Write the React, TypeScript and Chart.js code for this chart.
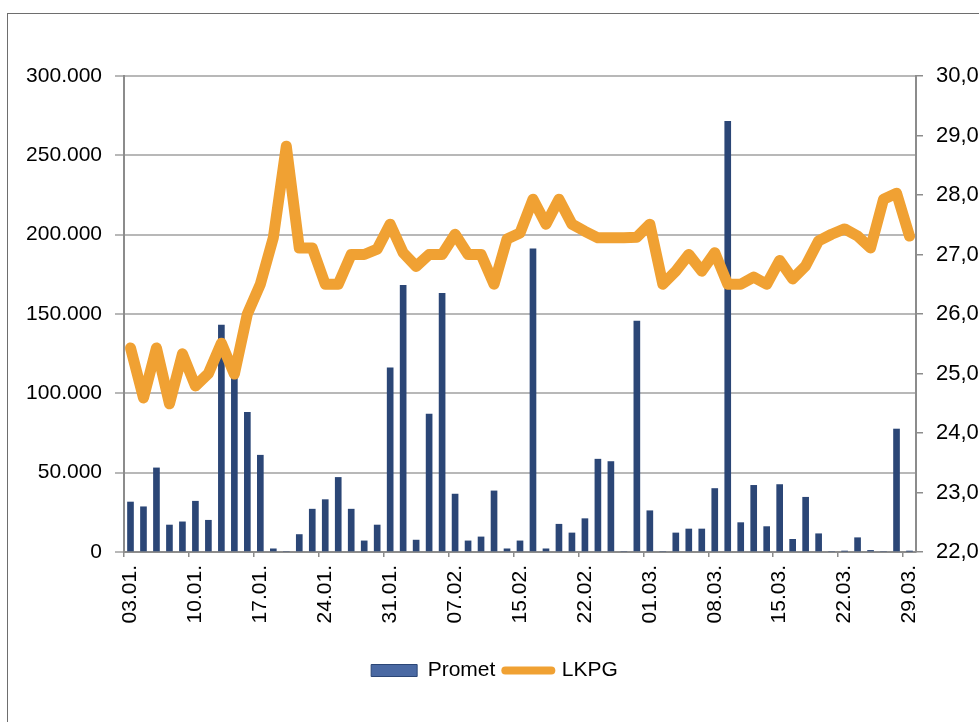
import { useEffect, useRef } from 'react';
import { Chart, registerables } from 'chart.js';

Chart.register(...registerables);

const dates = [
  '03.01.', '04.01.', '05.01.', '06.01.', '07.01.', '10.01.', '11.01.', '12.01.', '13.01.', '14.01.',
  '17.01.', '18.01.', '19.01.', '20.01.', '21.01.', '24.01.', '25.01.', '26.01.', '27.01.', '28.01.',
  '31.01.', '01.02.', '02.02.', '03.02.', '04.02.', '07.02.', '09.02.', '10.02.', '11.02.', '14.02.',
  '15.02.', '16.02.', '17.02.', '18.02.', '21.02.', '22.02.', '23.02.', '24.02.', '25.02.', '28.02.',
  '01.03.', '02.03.', '03.03.', '04.03.', '07.03.', '08.03.', '09.03.', '10.03.', '11.03.', '14.03.',
  '15.03.', '16.03.', '17.03.', '18.03.', '21.03.', '22.03.', '23.03.', '24.03.', '25.03.', '28.03.',
  '29.03.',
];

const promet = [
  31500, 28500, 53000, 17000, 19000, 32000, 20000, 143000, 112000, 88000,
  61000, 2000, 0, 11000, 27000, 33000, 47000, 27000, 7000, 17000,
  116000, 168000, 7500, 87000, 163000, 36500, 7000, 9500, 38500, 2000,
  7000, 191000, 2000, 17500, 12000, 21000, 58500, 57000, 0, 145500,
  26000, 0, 12000, 14500, 14500, 40000, 271500, 18500, 42000, 16000,
  42500, 8000, 34500, 11500, 0, 500, 9000, 1000, 0, 77500,
  500,
];

const lkpg = [
  25.43, 24.59, 25.43, 24.49, 25.33, 24.79, 25.0, 25.51, 24.99, 26.0,
  26.5, 27.28, 28.82, 27.11, 27.11, 26.5, 26.5, 27.0, 27.0, 27.09,
  27.51, 27.03, 26.8, 27.0, 27.0, 27.34, 27.0, 27.0, 26.5, 27.26,
  27.36, 27.93, 27.51, 27.93, 27.51, 27.39, 27.28, 27.28, 27.28, 27.29,
  27.51, 26.5, 26.72, 27.0, 26.72, 27.03, 26.5, 26.5, 26.62, 26.5,
  26.9, 26.59, 26.81, 27.23, 27.34, 27.43, 27.31, 27.11, 27.93, 28.03,
  27.31,
];

const seriesNames = ['Promet', 'LKPG'];
const leftMin = 0;
const leftMax = 300000;
const leftStep = 50000;
const rightMin = 22;
const rightMax = 30;
const rightStep = 1;
const labelEvery = 5;

const fmtThousands = (v: number) => {
  const s = Math.round(v).toString();
  return s.replace(/\B(?=(\d{3})+(?!\d))/g, '.');
};

export default function App() {
  const ref = useRef<HTMLCanvasElement>(null);

  useEffect(() => {
    Chart.defaults.font.family = '"Liberation Sans", Arial, sans-serif';
    Chart.defaults.font.size = 21;
    Chart.defaults.color = '#000';
    const chart = new Chart(ref.current!, {
      type: 'bar',
      data: {
        labels: dates,
        datasets: [
          {
            type: 'bar',
            label: seriesNames[0],
            data: promet,
            yAxisID: 'y',
            backgroundColor: '#2b4676',
            borderWidth: 0,
            barThickness: 6,
            order: 2,
          },
          {
            type: 'line',
            label: seriesNames[1],
            data: lkpg,
            yAxisID: 'y1',
            borderColor: '#f0a133',
            backgroundColor: '#f0a133',
            borderWidth: 11,
            pointRadius: 0,
            borderJoinStyle: 'round',
            borderCapStyle: 'round',
            tension: 0,
            order: 1,
          },
        ],
      } as any,
      options: {
        animation: false,
        responsive: false,
        maintainAspectRatio: false,
        layout: { padding: { left: 0, right: 0, top: 60, bottom: 33 } },
        plugins: {
          tooltip: { enabled: false },
          legend: {
            position: 'bottom',
            labels: {
              usePointStyle: true,
              pointStyleWidth: 46,
              boxHeight: 12,
              padding: 10,
              font: { size: 21 },
              color: '#000',
              generateLabels: () => [
                {
                  text: seriesNames[0],
                  fillStyle: '#4a69a3',
                  strokeStyle: '#2b4676',
                  lineWidth: 1,
                  pointStyle: 'rect',
                  datasetIndex: 0,
                  hidden: false,
                },
                {
                  text: seriesNames[1],
                  fillStyle: '#f0a133',
                  strokeStyle: '#f0a133',
                  lineWidth: 8,
                  lineCap: 'round',
                  pointStyle: 'line',
                  datasetIndex: 1,
                  hidden: false,
                },
              ] as any,
            },
          },
        },
        scales: {
          x: {
            offset: true,
            grid: {
              offset: true,
              drawOnChartArea: false,
              tickLength: 5,
              lineWidth: 1.5,
              color: (ctx: any) => (ctx.index % labelEvery === 0 ? '#8c8c8c' : 'rgba(0,0,0,0)'),
            },
            border: { color: '#8c8c8c', width: 2 },
            ticks: {
              autoSkip: false,
              maxRotation: 90,
              minRotation: 90,
              padding: 8,
              color: '#000',
              font: { size: 21 },
              callback: (_v: any, i: number) => (i % labelEvery === 0 ? dates[i] : ''),
            },
            afterFit: (s: any) => {
              s.height = 98;
            },
          },
          y: {
            position: 'left',
            min: leftMin,
            max: leftMax,
            ticks: {
              stepSize: leftStep,
              padding: 13,
              color: '#000',
              font: { size: 21 },
              callback: (v: any) => fmtThousands(Number(v)),
            },
            grid: { color: '#b8b8b8', lineWidth: 2, tickLength: 9 },
            border: { color: '#8c8c8c', width: 2 },
            afterFit: (s: any) => {
              s.width = 115;
            },
          },
          y1: {
            position: 'right',
            min: rightMin,
            max: rightMax,
            ticks: {
              stepSize: rightStep,
              padding: 13,
              color: '#000',
              font: { size: 22 },
              callback: (v: any) => Number(v).toFixed(2).replace('.', ','),
            },
            grid: { drawOnChartArea: false, tickLength: 7, color: '#8c8c8c', lineWidth: 1.5 },
            border: { color: '#8c8c8c', width: 2 },
            afterFit: (s: any) => {
              s.width = 64;
            },
          },
        },
      } as any,
    });
    return () => chart.destroy();
  }, []);

  return (
    <div
      style={{
        position: 'fixed',
        left: 0,
        top: 0,
        width: 979,
        height: 722,
        overflow: 'hidden',
        background: '#fff',
      }}
    >
      <div
        style={{
          position: 'absolute',
          left: 7,
          top: 13,
          width: 1200,
          height: 900,
          border: '1px solid #6e6e6e',
        }}
      >
        <canvas
          ref={ref}
          width={971}
          height={708}
          style={{ position: 'absolute', left: 1, top: 2, width: 971, height: 708 }}
        />
      </div>
    </div>
  );
}
